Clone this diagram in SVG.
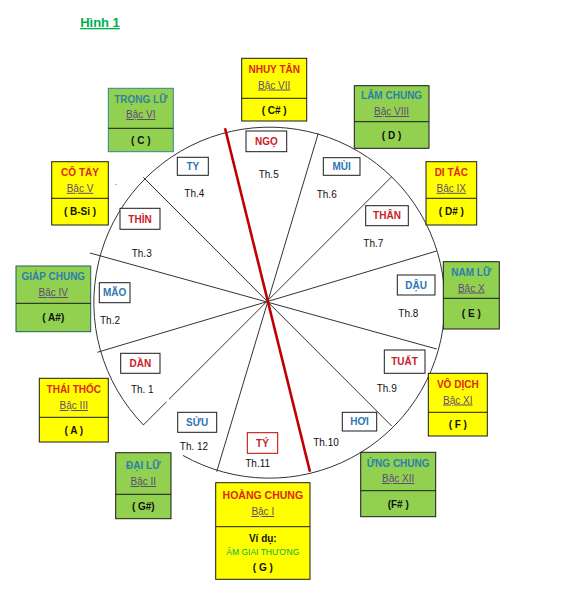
<svg xmlns="http://www.w3.org/2000/svg" width="569" height="599" viewBox="0 0 569 599">
<style>
text{font-family:"Liberation Sans",Arial,sans-serif;text-anchor:middle}
.g{fill:#92D050;stroke:#1a1a1a;stroke-width:1}
.y{fill:#FFFF00;stroke:#1a1a1a;stroke-width:1}
.dv{stroke:#1a1a1a;stroke-width:1}
.lb{fill:#fff;stroke:#1a1a1a;stroke-width:1}
.nr{font-size:10px;font-weight:bold;fill:#E0261C}
.nb{font-size:10px;font-weight:bold;fill:#2A7FAE}
.bc{font-size:10px;fill:#5F497A;text-decoration:underline}
.nt{font-size:10px;font-weight:bold;fill:#111}
.lr{font-size:10px;font-weight:bold;fill:#C8202A}
.lbl{font-size:10px;font-weight:bold;fill:#2E75B6}
.th{font-size:10px;fill:#111}
.sp{stroke:#333;stroke-width:1;fill:none}
</style>

<text x="100" y="27" style="font-size:13px;font-weight:bold;fill:#00B050;text-decoration:underline">Hình 1</text>
<text x="116" y="185" style="font-size:8px;fill:#111">.</text>

<g id="wheel">
<path class="sp" d="M143.6,425.1 A175.5,175.5 0 1 1 182.9,455.4"/>
<line class="sp" x1="318.3" y1="133.3" x2="216.7" y2="471.7"/>
<line class="sp" x1="143.3" y1="425" x2="166.5" y2="401.8"/>
<line class="sp" x1="169" y1="399.3" x2="391.7" y2="176.7"/>
<line class="sp" x1="436.7" y1="251" x2="97.3" y2="352.3"/>
<line class="sp" x1="436.7" y1="349" x2="90" y2="253"/>
<line class="sp" x1="391.7" y1="426" x2="143.3" y2="177.3"/>
<line x1="225" y1="128.3" x2="310" y2="471.7" stroke="#C00000" stroke-width="2.6"/>
</g>

<g id="th-labels">
<text class="th" x="268.7" y="177.5">Th.5</text>
<text class="th" x="194.3" y="196.8">Th.4</text>
<text class="th" x="326.7" y="197.8">Th.6</text>
<text class="th" x="141.7" y="256.8">Th.3</text>
<text class="th" x="373.3" y="246.8">Th.7</text>
<text class="th" x="110" y="323.5">Th.2</text>
<text class="th" x="408.3" y="316.8">Th.8</text>
<text class="th" x="142.3" y="392.5">Th. 1</text>
<text class="th" x="386.7" y="391.8">Th.9</text>
<text class="th" x="194" y="450.2">Th. 12</text>
<text class="th" x="326" y="446.2">Th.10</text>
<text class="th" x="257.7" y="466.8">Th.11</text>
</g>

<g id="ngo"><rect class="lb" x="246" y="131" width="40.7" height="20.7"/><text class="lr" x="266.3" y="145">NGỌ</text></g>
<g id="ty"><rect class="lb" x="177.3" y="157.3" width="31" height="18"/><text class="lbl" x="192.8" y="170">TY</text></g>
<g id="mui"><rect class="lb" x="323.3" y="157.7" width="36.7" height="17.6"/><text class="lbl" x="341.6" y="170.2">MÙI</text></g>
<g id="thin"><rect class="lb" x="120" y="208.3" width="40" height="21"/><text class="lr" x="140" y="222.5">THÌN</text></g>
<g id="than"><rect class="lb" x="365.7" y="205.7" width="42.6" height="20"/><text class="lr" x="387" y="219.4">THÂN</text></g>
<g id="mao"><rect class="lb" x="99.3" y="282.7" width="30.7" height="20"/><text class="lbl" x="114.6" y="296.4">MÃO</text></g>
<g id="dau"><rect class="lb" x="397.3" y="275" width="37.7" height="20"/><text class="lbl" x="416.1" y="288.7">DẬU</text></g>
<g id="dan"><rect class="lb" x="120.7" y="353.3" width="39.3" height="20"/><text class="lr" x="140.3" y="367">DẦN</text></g>
<g id="tuat"><rect class="lb" x="384.3" y="350" width="40.7" height="23.3"/><text class="lr" x="404.6" y="365.4">TUẤT</text></g>
<g id="suu"><rect class="lb" x="177.7" y="412.3" width="39" height="20"/><text class="lbl" x="197.2" y="426">SỬU</text></g>
<g id="hoi"><rect class="lb" x="342.3" y="412.3" width="34.4" height="18.7"/><text class="lbl" x="359.5" y="425.3">HƠI</text></g>
<g id="tyy"><rect x="247.3" y="432.7" width="30.4" height="20.6" fill="#fff" stroke="#C00000"/><text class="lr" x="262.5" y="446.7">TÝ</text></g>

<g id="nhuy-tan"><rect class="y" x="241.7" y="58.3" width="65" height="62.7"/><line class="dv" x1="241.7" y1="98.3" x2="306.7" y2="98.3"/>
<text class="nr" x="274.2" y="72.8">NHUY TÂN</text><text class="bc" x="274.2" y="88.5">Bậc VII</text><text class="nt" x="274.2" y="113.5">( C# )</text></g>

<g id="lam-chung"><rect class="g" x="354.3" y="85.7" width="74.7" height="62.6"/><line class="dv" x1="354.3" y1="121.7" x2="429" y2="121.7"/>
<text class="nb" x="391.6" y="98.5">LÂM CHUNG</text><text class="bc" x="391.6" y="115">Bậc VIII</text><text class="nt" x="391.6" y="139">( D )</text></g>

<g id="trong-lu"><rect class="g" x="108.3" y="88.3" width="65" height="63.4" style="stroke:#31859C"/><line x1="108.3" y1="128.3" x2="173.3" y2="128.3" stroke="#1a1a1a"/>
<text class="nb" x="140.8" y="102.5" style="fill:#31849B">TRỌNG LỮ</text><text class="bc" x="140.8" y="118">Bậc VI</text><text class="nt" x="140.8" y="143.5">( C )</text></g>

<g id="co-tay"><rect class="y" x="51.7" y="161.7" width="56.6" height="63.3"/><line class="dv" x1="51.7" y1="198.3" x2="108.3" y2="198.3"/>
<text class="nr" x="80" y="176">CÔ  TẨY</text><text class="bc" x="80" y="191.8">Bậc V</text><text class="nt" x="80" y="215">( B-Si )</text></g>

<g id="di-tac"><rect class="y" x="426" y="161.7" width="50.7" height="63.3"/><line class="dv" x1="426" y1="198.3" x2="476.7" y2="198.3"/>
<text class="nr" x="451.3" y="176">DI  TẮC</text><text class="bc" x="451.3" y="191.8">Bậc IX</text><text class="nt" x="451.3" y="215">( D# )</text></g>

<g id="giap-chung"><rect class="g" x="16" y="266" width="74.7" height="65.7" style="stroke:#1E5E5A"/><line x1="16" y1="303.3" x2="90.7" y2="303.3" stroke="#1a1a1a"/>
<text class="nb" x="53.3" y="279.5">GIÁP CHUNG</text><text class="bc" x="53.3" y="296">Bậc IV</text><text class="nt" x="53.3" y="321">( A#)</text></g>

<g id="nam-lu"><rect class="g" x="443.3" y="261.7" width="56" height="67.3"/><line class="dv" x1="443.3" y1="298.3" x2="499.3" y2="298.3"/>
<text class="nb" x="471.3" y="276">NAM LỮ</text><text class="bc" x="471.3" y="291.5">Bậc X</text><text class="nt" x="471.3" y="316.5">( E )</text></g>

<g id="thai-thoc"><rect class="y" x="39.3" y="378.3" width="69" height="63.7"/><line class="dv" x1="39.3" y1="417.3" x2="108.3" y2="417.3"/>
<text class="nr" x="73.8" y="393">THÁI THỐC</text><text class="bc" x="73.8" y="409">Bậc  III</text><text class="nt" x="73.8" y="433.5">( A )</text></g>

<g id="vo-dich"><rect class="y" x="428.3" y="373.3" width="59" height="62.7"/><line class="dv" x1="428.3" y1="412.3" x2="487.3" y2="412.3"/>
<text class="nr" x="457.8" y="387.5">VÔ DỊCH</text><text class="bc" x="457.8" y="403.5">Bậc XI</text><text class="nt" x="457.8" y="428">( F )</text></g>

<g id="dai-lu"><rect class="g" x="115.7" y="452.7" width="55.3" height="66"/><line class="dv" x1="115.7" y1="494.3" x2="171" y2="494.3"/>
<text class="nb" x="143.3" y="469">ĐẠI  LỮ</text><text class="bc" x="143.3" y="485">Bậc II</text><text class="nt" x="143.3" y="510">( G#)</text></g>

<g id="ung-chung"><rect class="g" x="360.7" y="452.3" width="75" height="64.4"/><line class="dv" x1="360.7" y1="490.7" x2="435.7" y2="490.7"/>
<text class="nb" x="398.2" y="466.5">ỨNG CHUNG</text><text class="bc" x="398.2" y="482">Bậc XII</text><text class="nt" x="398.2" y="507.5">(F# )</text></g>

<g id="hoang-chung"><rect class="y" x="215.7" y="482.7" width="94.3" height="96.6"/><line class="dv" x1="215.7" y1="526.7" x2="310" y2="526.7"/>
<text class="nr" x="262.8" y="498.5" style="font-size:10.5px">HOÀNG CHUNG</text><text class="bc" x="262.8" y="515">Bậc  I</text>
<text class="nt" x="262.8" y="541.5">Ví dụ:</text>
<text x="262.8" y="554.5" style="font-size:8.5px;fill:#00B050">ÂM GIAI THƯƠNG</text>
<text class="nt" x="262.8" y="571">( G )</text></g>
</svg>
